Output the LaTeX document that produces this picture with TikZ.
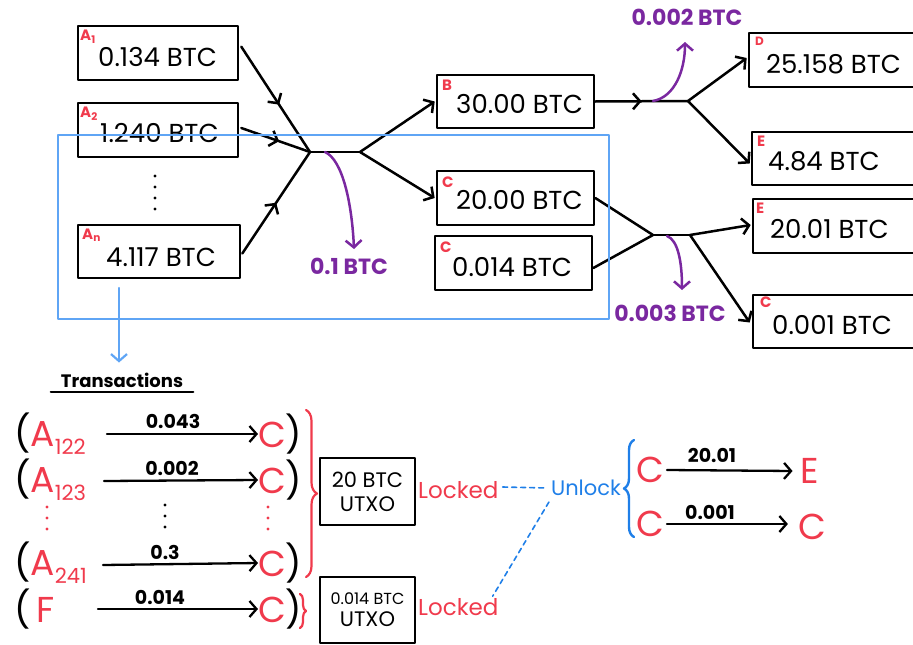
\documentclass[tikz,border=0pt]{standalone}
\usepackage{fontspec}
\setmainfont{Poppins}
\usetikzlibrary{arrows.meta,decorations.markings,decorations.pathreplacing,calc}

\definecolor{tred}{HTML}{F03A4C}
\definecolor{tpurple}{HTML}{7A28A0}
\definecolor{tblue}{HTML}{5FA5F5}
\definecolor{tbluetext}{HTML}{1F7FE8}

\newcommand{\amtfont}{\fontsize{26}{28}\selectfont}
\newcommand{\tagfont}{\fontsize{15}{16}\selectfont\bfseries}
\newcommand{\feefont}{\fontsize{22}{23}\selectfont\bfseries}
\newcommand{\rowfont}{\fontsize{36}{38}\selectfont}
\newcommand{\subfont}{\fontsize{21}{22}\selectfont}
\newcommand{\valfont}{\fontsize{19}{20}\selectfont\bfseries}

\tikzset{
  barb/.tip={Straight Barb[length=7pt,width=16pt]},
  coinbox/.style={draw, line width=2.6pt, inner sep=0pt, minimum height=54pt},
  amt/.style={font=\amtfont, inner sep=0pt, anchor=west},
  tagl/.style={font=\tagfont, text=tred, inner sep=0pt, anchor=north west},
  wire/.style={line width=2.5pt},
  wirearrow/.style={line width=2.5pt, -barb},
  midarrow/.style={line width=2.5pt, postaction={decorate},
    decoration={markings, mark=at position #1 with {\arrow{barb}}}},
  fee/.style={line width=2.5pt, tpurple, -barb},
  feelabel/.style={font=\feefont, text=tpurple, inner sep=0pt},
  rowtxt/.style={font=\rowfont, inner sep=0pt, anchor=west},
  val/.style={font=\valfont, inner sep=0pt},
  txarrow/.style={line width=2.3pt, -barb},
  dot/.style={circle, fill, inner sep=0pt, minimum size=3.2pt},
  redword/.style={font=\fontsize{23}{24}\selectfont, text=tred, inner sep=0pt, anchor=west},
}

\begin{document}
\begin{tikzpicture}[x=1pt,y=-1pt, line cap=round, line join=round]
\useasboundingbox (0,0) rectangle (913,645);

% ---------- input coins ----------
\node[coinbox, minimum width=160pt] (A1) at (158,53) {};
\node[tagl] (A1k) at (80,30) {A\textsubscript{1}};
\node[amt] (A1v) at (98,57) {0.134 BTC};

\node[coinbox, minimum width=160pt] (A2) at (158,130) {};
\node[tagl] (A2k) at (80,107) {A\textsubscript{2}};
\node[amt] (A2v) at (100,133) {1.240 BTC};

\foreach \yy [count=\i] in {176,187,198,209}
  \node[dot] (Adot\i) at (155,\yy) {};

\node[coinbox, minimum width=162pt, minimum height=53pt] (An) at (159,251.5) {};
\node[tagl] (Ank) at (82,229) {A\textsubscript{n}};
\node[amt] (Anv) at (106,257) {4.117 BTC};

% ---------- intermediate coins ----------
\node[coinbox, minimum width=157pt, minimum height=53pt] (B) at (515.5,101.5) {};
\node[tagl] (Bk) at (442,80) {B};
\node[amt] (Bv) at (456,104) {30.00 BTC};

\node[coinbox, minimum width=157pt] (C1) at (515.5,198) {};
\node[tagl] (C1k) at (442,177) {C};
\node[amt] (C1v) at (456,200) {20.00 BTC};

\node[coinbox, minimum width=157pt] (C2) at (513.5,263) {};
\node[tagl] (C2k) at (440,242) {C};
\node[amt] (C2v) at (452,267) {0.014 BTC};

% ---------- output coins ----------
\node[coinbox, minimum width=176pt] (D) at (837,60) {};
\node[tagl, font=\fontsize{12}{12}\selectfont\bfseries] (Dk) at (755,37) {D};
\node[amt] (Dv) at (766,64) {25.158 BTC};

\node[coinbox, minimum width=173pt, minimum height=53pt] (E1) at (838.5,158.5) {};
\node[tagl] (E1k) at (757,136) {E};
\node[amt] (E1v) at (768,161) {4.84 BTC};

\node[coinbox, minimum width=172pt] (E2) at (839,226) {};
\node[tagl] (E2k) at (756,203) {E};
\node[amt] (E2v) at (770,229) {20.01 BTC};

\node[coinbox, minimum width=172pt, minimum height=53pt] (C3) at (839,321.5) {};
\node[tagl] (C3k) at (760,297) {C};
\node[amt] (C3v) at (772,325) {0.001 BTC};

% ---------- first transaction ----------
\coordinate (J1) at (310,152);
\coordinate (J1b) at (360,152);
\draw[midarrow=0.55] ($(A1.north east)+(2,22)$) -- (J1);
\draw[midarrow=0.55] ($(A2.east)+(2,-2)$) -- (J1);
\draw[midarrow=0.5] ($(An.east)+(1,2)$) -- (J1);
\draw[wire] (J1) -- (J1b);
\draw[wirearrow] (J1b) -- ($(B.west)+(-1,0)$);
\draw[wirearrow] (J1b) -- ($(C1.west)+(-1,0)$);
\draw[fee] (325,152) .. controls (343,160) and (352,205) .. (354,249);
\node[feelabel] (f1) at (349,266) {0.1 BTC};

% ---------- second transaction ----------
\coordinate (J2) at (688,101);
\draw[midarrow=0.5] (B.east) -- (J2);
\draw[wirearrow] (J2) -- ($(D.west)+(-1,-2)$);
\draw[wirearrow] (J2) -- ($(E1.west)+(-1,5)$);
\draw[fee] (653,101) .. controls (675,97) and (685,70) .. (685,42);
\node[feelabel] (f2) at (687,17) {0.002 BTC};

% ---------- third transaction ----------
\coordinate (J3) at (653,235);
\coordinate (J3b) at (690,235);
\draw[wire] (C1.east) -- (J3);
\draw[wire] ($(C2.east)+(0,5)$) -- (J3);
\draw[wire] (J3) -- (J3b);
\draw[wirearrow] (J3b) -- ($(E2.west)+(-1,-1)$);
\draw[wirearrow] (J3b) -- ($(C3.west)+(-2,1)$);
\draw[fee] (667,236) .. controls (678,240) and (682,262) .. (682,290);
\node[feelabel] (f3) at (670,313) {0.003 BTC};

% ---------- highlighted region ----------
\draw[tblue, line width=2.2pt, line cap=butt] (58,135) rectangle (609,319);
\coordinate (hl) at (119,288);
\node[font=\fontsize{18}{19}\selectfont\bfseries, inner sep=0pt] (T) at (122,380) {Transactions};
\draw[tblue, line width=2.2pt, -barb] (hl) -- ($(T.north -| hl)+(0,-10)$);
\draw[line width=2pt] ($(T.south west)+(-10,5)$) -- ($(T.south east)+(10,5)$);

% ---------- transaction list ----------
\node[rowtxt] (r1a) at (14,434) {(\textcolor{tred}{A\raisebox{-8pt}{\subfont 122}}};
\node[rowtxt] (r1c) at (258,434) {\textcolor{tred}{C})};
\draw[txarrow] (107,434) -- (r1c.west);
\node[val] (r1v) at (173,421) {0.043};

\node[rowtxt] (r2a) at (14,480) {(\textcolor{tred}{A\raisebox{-8pt}{\subfont 123}}};
\node[rowtxt] (r2c) at (258,480) {\textcolor{tred}{C})};
\draw[txarrow] (104,481) -- (r2c.west);
\node[val] (r2v) at (172,468) {0.002};

\foreach \yy [count=\i] in {505,516,527} {
  \node[dot, tred] (dl\i) at (47,\yy+2) {};
  \node[dot] (dm\i) at (165,\yy) {};
  \node[dot, tred] (dr\i) at (268,\yy+2) {};
}

\node[rowtxt] (r3a) at (14,563) {(\textcolor{tred}{A\raisebox{-8pt}{\subfont 241}}};
\node[rowtxt] (r3c) at (258,563) {\textcolor{tred}{C})};
\draw[txarrow] (103,565) -- (r3c.west);
\node[val] (r3v) at (165,552) {0.3};

\node[rowtxt] (r4a) at (14,609) {(\,\textcolor{tred}{F}};
\node[rowtxt] (r4c) at (258,609) {\textcolor{tred}{C})};
\draw[txarrow] (98,609) -- (r4c.west);
\node[val] (r4v) at (160,597) {0.014};

\draw[tred, line width=2.2pt, decorate, decoration={brace, amplitude=11pt}] (306,410) -- (306,577);
\draw[tred, line width=2.2pt, decorate, decoration={brace, amplitude=6pt}] (300,594) -- (300,628);

% ---------- UTXOs ----------
\node[coinbox, minimum width=95pt, minimum height=67pt, align=center, font=\fontsize{21}{24}\selectfont] (U1) at (367.5,491.5) {20 BTC\\UTXO};
\node[coinbox, minimum width=95pt, minimum height=66pt, align=center, font=\fontsize{16}{21}\selectfont] (U2) at (367.5,610) {0.014 BTC\\[1pt]{\fontsize{21}{22}\selectfont UTXO}};

\node[redword] (L1) at (418,490) {Locked};
\node[redword] (L2) at (418,607) {Locked};
\node[font=\fontsize{21}{22}\selectfont, text=tbluetext, inner sep=0pt] (UL) at (586,488) {Unlock};

\draw[tbluetext, line width=1.6pt, dash pattern=on 5pt off 4pt] ($(L1.east)+(4,-3)$) -- ($(UL.west)+(-4,0)$);
\draw[tbluetext, line width=1.6pt, dash pattern=on 5pt off 4pt] ($(UL.south west)+(-2,6)$) -- ($(L2.north east)+(-6,-2)$);

\draw[tbluetext, line width=2.4pt, decorate, decoration={brace, amplitude=10pt}] (634,537) -- (634,440);

% ---------- spending ----------
\node[font=\rowfont, text=tred, inner sep=0pt] (s1) at (650,470) {C};
\node[font=\rowfont, text=tred, inner sep=0pt] (e1) at (810,471) {E};
\draw[txarrow] (667,470) -- ($(e1.west)+(-8,0)$);
\node[val] (s1v) at (712,455) {20.01};

\node[font=\rowfont, text=tred, inner sep=0pt] (s2) at (650,524) {C};
\node[font=\rowfont, text=tred, inner sep=0pt] (e2) at (812,527) {C};
\draw[txarrow] (667,524) -- ($(e2.west)+(-10,-3)$);
\node[val] (s2v) at (710,512) {0.001};
\end{tikzpicture}
\end{document}
